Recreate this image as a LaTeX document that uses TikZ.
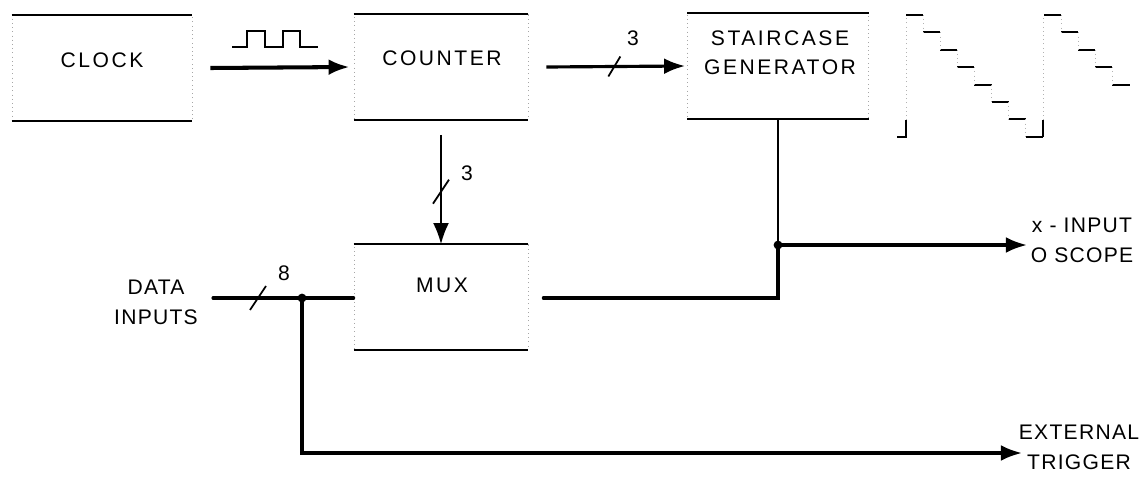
\documentclass[tikz,border=0pt]{standalone}
\usepackage{fontspec}
\setmainfont{Liberation Sans}
\newfontfamily\boxfont[LetterSpace=12]{Liberation Sans}
\newfontfamily\sidefont[LetterSpace=6]{Liberation Sans}
\usetikzlibrary{arrows.meta,calc}

\begin{document}
\begin{tikzpicture}[x=0.02cm,y=-0.02cm,
  blk/.style={draw=black!35, dotted, line width=0.4pt, minimum width=#1, minimum height=2.1cm, inner sep=0pt},
  rim/.style={line width=1.3pt},
  sig/.style={line width=1.8pt, -{Latex[length=12pt,width=9pt]}},
  bus/.style={line width=1.8pt, line cap=round},
  wire/.style={line width=1.1pt},
  tick/.style={line width=1pt},
  wave/.style={line width=1.2pt},
  riser/.style={line width=0.4pt, black!30, dotted},
  lbl/.style={font=\boxfont\fontsize{12}{16.5}\selectfont, align=center, inner sep=0pt},
  side/.style={font=\sidefont\fontsize{12}{17}\selectfont, align=center, inner sep=0pt},
  num/.style={font=\sidefont\fontsize{12}{14}\selectfont, inner sep=0pt}]
  \useasboundingbox (0,0) rectangle (1140,477);

  % blocks
  \node[blk=3.6cm] (clk) at (102,68) {};
  \node[blk=3.48cm] (cnt) at (441,67) {};
  \node[blk=3.62cm] (stair) at (778,66) {};
  \node[blk=3.48cm] (mux) at (441,297) {};
  \foreach \b in {clk,cnt,stair,mux}
    \draw[rim] (\b.north west) -- (\b.north east) (\b.south west) -- (\b.south east);

  \node[lbl] (clkt) at (102,60) {CLOCK};
  \node[lbl] (cntt) at (442,58) {COUNTER};
  \node[lbl] (stairt) at (780,53) {STAIRCASE\\GENERATOR};
  \node[lbl] (muxt) at (442,285) {MUX};

  % clock pulses
  \draw[wave] (232,47) -- (247,47) -- (247,31) -- (265,31) -- (265,47) -- (283,47)
    -- (283,31) -- (300,31) -- (300,47) -- (318,47);

  % staircase output
  \draw[wave] (897,137) -- (906,137) -- (906,120);
  \draw[riser] (906,120) -- (906,15);
  \foreach \i in {0,...,7}
    \draw[wave] (906+17.1*\i,15+17.4*\i) -- ++(17.1,0);
  \foreach \i in {0,...,6}
    \draw[riser] (923.1+17.1*\i,15+17.4*\i) -- ++(0,17.4);
  \draw[wave] (1043,137) -- (1043,120);
  \draw[riser] (1043,120) -- (1043,15);
  \foreach \i in {0,...,4}
    \draw[wave] (1044+17.1*\i,15+17.4*\i) -- ++(17.1,0);
  \foreach \i in {0,...,3}
    \draw[riser] (1061.1+17.1*\i,15+17.4*\i) -- ++(0,17.4);

  % clock -> counter -> staircase
  \draw[sig, line width=2.3pt] ([xshift=0.36cm]clk.east) -- ([xshift=-0.08cm]cnt.west);
  \draw[sig] ([xshift=0.36cm]cnt.east) -- coordinate[pos=.49] (s1) ([xshift=-0.04cm]stair.west);
  \draw[tick] (s1) ++(-6,10) -- ++(12,-20);
  \node[num] (n1) at (633,38) {3};

  % counter -> mux
  \draw[sig, line width=1pt] ([yshift=-0.3cm]cnt.south) -- coordinate[pos=.52] (s2) (mux.north);
  \draw[tick] (s2) ++(-8,12) -- ++(16,-24);
  \node[num] (n2) at (467,173) {3};

  % data inputs
  \node[side] (din-t) at (156,302) {DATA\\INPUTS};
  \coordinate (din) at (213,298);
  \coordinate (j1) at (302,298);
  \draw[bus] (din) -- coordinate[pos=.32] (s3) (mux.west |- din);
  \draw[tick] (s3) ++(-8,12) -- ++(16,-24);
  \node[num] (n3) at (284,273) {8};
  \fill (j1) circle (2.5pt);

  % external trigger
  \coordinate (trig) at (1022,453);
  \draw[sig] (j1) |- (trig);
  \node[side] (trig-t) at (1079,447) {EXTERNAL\\TRIGGER};

  % x-input
  \coordinate (xj) at (stair.south |- 0,245);
  \coordinate (xin) at (1027,245);
  \draw[wire] (stair.south) -- (xj);
  \draw[bus] ([xshift=0.3cm]mux.east |- din) -| (xj);
  \fill (xj) circle (2.5pt);
  \draw[sig] (xj) -- (xin);
  \node[side] (xin-t) at (1082,240) {x - INPUT\\O SCOPE};
\end{tikzpicture}
\end{document}
